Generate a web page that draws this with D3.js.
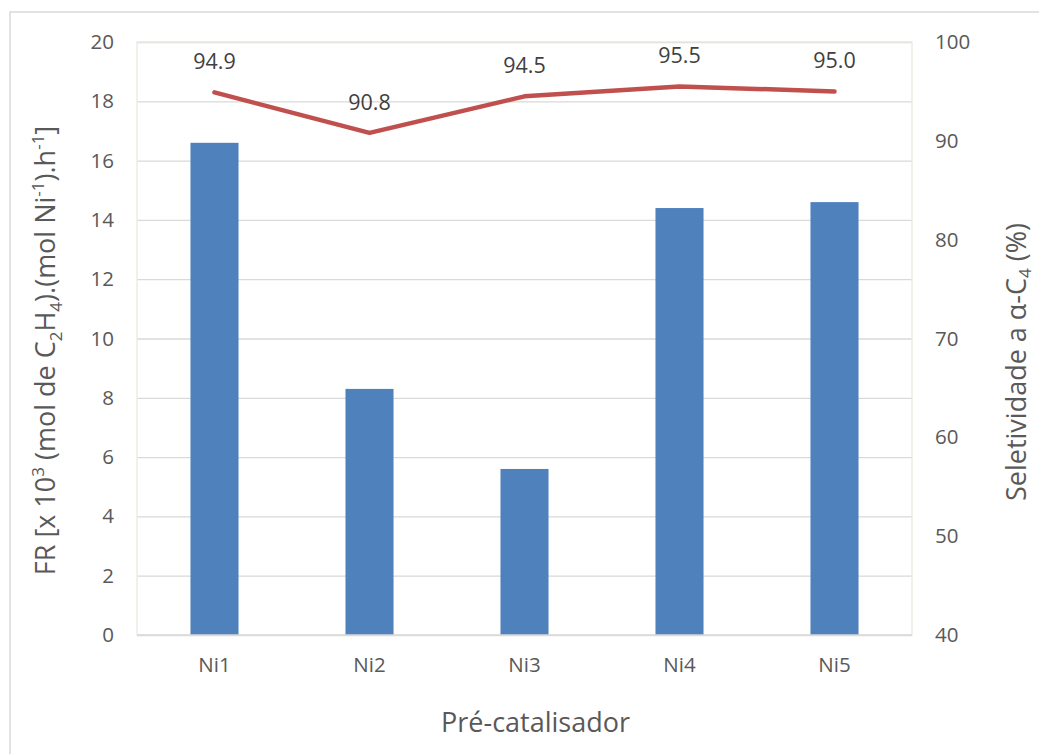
<!DOCTYPE html>
<html>
<head>
<meta charset="utf-8">
<script src="https://cdn.jsdelivr.net/npm/d3@7"></script>
<style>
  body { margin: 0; background: #fff; }
  text { font-family: "Open Sans", "Noto Sans", sans-serif; }
</style>
</head>
<body>
<div id="chart"></div>
<script>
// data
const catalysts = ['Ni1', 'Ni2', 'Ni3', 'Ni4', 'Ni5'];
const frValues = [16.6, 8.3, 5.6, 14.4, 14.6];
const selectivity = [94.9, 90.8, 94.5, 95.5, 95.0];
const leftTicks = [0, 2, 4, 6, 8, 10, 12, 14, 16, 18, 20];
const rightTicks = [40, 50, 60, 70, 80, 90, 100];

const W = 1039, H = 754;
const margin = {top: 42, right: 127, bottom: 119, left: 137};
const width = W - margin.left - margin.right;
const height = H - margin.top - margin.bottom;

const svg = d3.select('#chart').append('svg')
    .attr('width', W)
    .attr('height', H);

// outer chart border (only left/top visible in the reference)
svg.append('rect')
    .attr('x', 10).attr('y', 12)
    .attr('width', W + 20).attr('height', H + 20)
    .attr('fill', 'none')
    .attr('stroke', '#d9d9d9')
    .attr('stroke-width', 1.5);

const g = svg.append('g')
    .attr('transform', `translate(${margin.left},${margin.top})`);

const x = d3.scaleBand()
    .domain(catalysts)
    .range([0, width])
    .paddingInner(0.69)
    .paddingOuter(0.345);

const yL = d3.scaleLinear().domain([0, 20]).range([height, 0]);
const yR = d3.scaleLinear().domain([40, 100]).range([height, 0]);

// gridlines
g.append('g')
    .call(d3.axisLeft(yL).tickValues(leftTicks).tickSize(-width).tickFormat(''))
    .call(a => a.select('.domain').remove())
    .selectAll('line')
    .attr('stroke', '#d9d9d9')
    .attr('stroke-width', 1.3);

// plot area border
g.append('rect')
    .attr('width', width).attr('height', height)
    .attr('fill', 'none')
    .attr('stroke', '#ebe9df')
    .attr('stroke-width', 1.3);

// bars
g.selectAll('.bar')
    .data(catalysts)
  .enter().append('rect')
    .attr('class', 'bar')
    .attr('x', d => x(d))
    .attr('y', (d, i) => yL(frValues[i]))
    .attr('width', x.bandwidth())
    .attr('height', (d, i) => height - yL(frValues[i]))
    .attr('fill', '#4f81bd');

// bottom axis line
g.append('line')
    .attr('x1', 0).attr('x2', width)
    .attr('y1', height).attr('y2', height)
    .attr('stroke', '#d9d9d9')
    .attr('stroke-width', 1.3);

// selectivity line
const cx = d => x(d) + x.bandwidth() / 2;
const line = d3.line()
    .x(d => cx(d))
    .y((d, i) => yR(selectivity[i]));

g.append('path')
    .datum(catalysts)
    .attr('d', line)
    .attr('fill', 'none')
    .attr('stroke', '#c0504d')
    .attr('stroke-width', 4.5)
    .attr('stroke-linecap', 'round')
    .attr('stroke-linejoin', 'round');

g.selectAll('.dlabel')
    .data(catalysts)
  .enter().append('text')
    .attr('class', 'dlabel')
    .attr('x', d => cx(d))
    .attr('y', (d, i) => yR(selectivity[i]) - 23)
    .attr('text-anchor', 'middle')
    .attr('font-size', 21.5)
    .attr('fill', '#404040')
    .text((d, i) => selectivity[i].toFixed(1));

// axes
const leftAxis = g.append('g')
    .call(d3.axisLeft(yL).tickValues(leftTicks).tickSize(0).tickPadding(23));
const rightAxis = g.append('g')
    .attr('transform', `translate(${width},0)`)
    .call(d3.axisRight(yR).tickValues(rightTicks).tickSize(0).tickPadding(23));
const bottomAxis = g.append('g')
    .attr('transform', `translate(0,${height})`)
    .call(d3.axisBottom(x).tickSize(0).tickPadding(22));

[leftAxis, rightAxis, bottomAxis].forEach(a => {
  a.select('.domain').remove();
  a.selectAll('text')
      .attr('font-size', 20.5)
      .attr('fill', '#595959')
      .style('font-family', '"Open Sans", "Noto Sans", sans-serif');
});

// axis titles with super/subscripts
function richTitle(t, parts, small, up, down) {
  let prev = 0;
  parts.forEach(p => {
    const s = t.append('tspan').text(p[0]);
    let shift = 0;
    if (p[1] === 'sup') shift = -up;
    if (p[1] === 'sub') shift = down;
    s.attr('dy', shift - prev);
    if (shift !== 0) s.attr('font-size', small);
    prev = shift;
  });
}

const leftTitle = svg.append('text')
    .attr('transform', `translate(55,${margin.top + height / 2 + 12}) rotate(-90)`)
    .attr('text-anchor', 'middle')
    .attr('font-size', 27)
    .attr('fill', '#595959');
richTitle(leftTitle, [
  ['FR [x 10'], ['3', 'sup'], [' (mol de C'], ['2', 'sub'], ['H'], ['4', 'sub'],
  [').(mol Ni'], ['-1', 'sup'], [').h'], ['-1', 'sup'], [']']
], 17, 11, 7);

const rightTitle = svg.append('text')
    .attr('transform', `translate(1026,362) rotate(-90)`)
    .attr('text-anchor', 'middle')
    .attr('font-size', 27)
    .attr('fill', '#595959');
richTitle(rightTitle, [
  ['Seletividade a α-C'], ['4', 'sub'], [' (%)']
], 17, 11, 5);

svg.append('text')
    .attr('x', margin.left + width / 2 + 11)
    .attr('y', 732)
    .attr('text-anchor', 'middle')
    .attr('font-size', 27)
    .attr('fill', '#595959')
    .text('Pré-catalisador');
</script>
</body>
</html>
